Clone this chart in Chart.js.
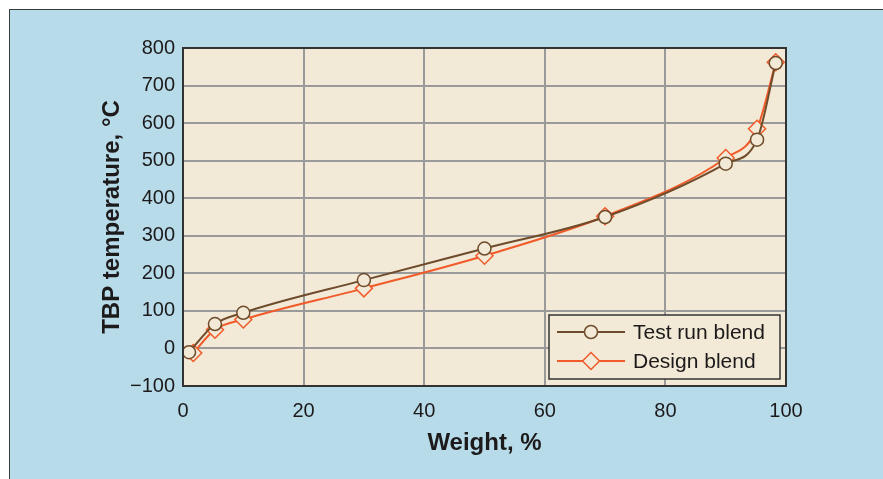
<!DOCTYPE html>
<html>
<head>
<meta charset="utf-8">
<script src="https://cdn.jsdelivr.net/npm/chart.js@4/dist/chart.umd.min.js"></script>
<style>
  body { margin: 0; background: #ffffff; }
  #frame { position: absolute; left: 9px; top: 9px; width: 900px; height: 500px;
           background: #b8dbea; border: 1.5px solid #3a3a3a; }
  #wrap { position: absolute; left: 0; top: 0; width: 883px; height: 479px; }
</style>
</head>
<body>
<div id="frame"></div>
<div id="wrap"><canvas id="chart" width="883" height="479"></canvas></div>
<script>
// 데이터
const weightTest = [1, 5.3, 10, 30, 50, 70, 90, 95.2, 98.3];
const tempTest = [-10, 65, 95, 182, 266, 350, 492, 556, 760];
const weightDesign = [1.7, 5.3, 10, 30, 50, 70, 90, 95.2, 98.3];
const tempDesign = [-12, 50, 77, 160, 247, 352, 507, 585, 762];
const seriesNames = ['Test run blend', 'Design blend'];

const xTitle = 'Weight, %';
const yTitle = 'TBP temperature, \u00B0C';

const plotBg = '#f2e9d6';
const brown = '#6e4b2a';
const orange = '#f15a29';
const textColor = '#1c1a1b';
const fontFamily = '"Liberation Sans", Arial, sans-serif';

function toPoints(xs, ys) {
  return xs.map((x, i) => ({ x: x, y: ys[i] }));
}

// 플롯 영역 배경 + 테두리 + 범례
const plotFrame = {
  id: 'plotFrame',
  beforeDraw(chart) {
    const { ctx, chartArea: a } = chart;
    ctx.save();
    ctx.fillStyle = plotBg;
    ctx.fillRect(a.left, a.top, a.right - a.left, a.bottom - a.top);
    ctx.restore();
  },
  afterDraw(chart) {
    const { ctx, chartArea: a } = chart;
    ctx.save();
    ctx.strokeStyle = '#333';
    ctx.lineWidth = 2;
    ctx.strokeRect(a.left, a.top, a.right - a.left, a.bottom - a.top);

    // legend box
    const bx = 549, by = 315, bw = 231, bh = 64;
    ctx.fillStyle = plotBg;
    ctx.fillRect(bx, by, bw, bh);
    ctx.lineWidth = 1.5;
    ctx.strokeStyle = '#333';
    ctx.strokeRect(bx, by, bw, bh);

    chart.data.datasets.forEach((ds, i) => {
      const y = by + 17 + i * 29;
      ctx.strokeStyle = ds.borderColor;
      ctx.lineWidth = 2;
      ctx.beginPath();
      ctx.moveTo(557, y);
      ctx.lineTo(625, y);
      ctx.stroke();
      ctx.fillStyle = plotBg;
      ctx.strokeStyle = ds.borderColor;
      ctx.lineWidth = 1.5;
      Chart.helpers.drawPoint(ctx, {
        pointStyle: ds.pointStyle,
        radius: ds.pointRadius,
        borderWidth: 1.5
      }, 591, y);
      ctx.fillStyle = textColor;
      ctx.font = '21px ' + fontFamily;
      ctx.textBaseline = 'middle';
      ctx.textAlign = 'left';
      ctx.fillText(ds.label, 633, y + 1);
    });
    ctx.restore();
  }
};

const ctx = document.getElementById('chart').getContext('2d');
new Chart(ctx, {
  type: 'scatter',
  data: {
    datasets: [{
      label: seriesNames[0],
      data: toPoints(weightTest, tempTest),
      showLine: true,
      borderColor: brown,
      backgroundColor: plotBg,
      borderWidth: 2,
      pointStyle: 'circle',
      pointRadius: 6.5,
      pointBorderWidth: 1.5,
      cubicInterpolationMode: 'monotone'
    }, {
      label: seriesNames[1],
      data: toPoints(weightDesign, tempDesign),
      showLine: true,
      borderColor: orange,
      backgroundColor: plotBg,
      borderWidth: 2,
      pointStyle: 'rectRot',
      pointRadius: 8.5,
      pointBorderWidth: 1.5,
      cubicInterpolationMode: 'monotone'
    }]
  },
  options: {
    responsive: false,
    animation: false,
    layout: { padding: { left: 94, top: 48, right: 97, bottom: 21 } },
    plugins: {
      legend: { display: false },
      tooltip: { enabled: false }
    },
    scales: {
      x: {
        type: 'linear',
        min: 0, max: 100,
        afterFit: s => { s.height = 72; },
        ticks: {
          stepSize: 20,
          padding: 13,
          color: textColor,
          font: { family: fontFamily, size: 20 }
        },
        grid: { color: '#9a9a9a', lineWidth: 2, drawTicks: false },
        border: { display: false },
        title: {
          display: true,
          text: xTitle,
          color: textColor,
          padding: 0,
          font: { family: fontFamily, size: 24, weight: 'bold' }
        }
      },
      y: {
        type: 'linear',
        min: -100, max: 800,
        afterFit: s => { s.width = 89; },
        ticks: {
          stepSize: 100,
          padding: 8,
          color: textColor,
          font: { family: fontFamily, size: 20 },
          callback: v => String(v).replace('-', '\u2212')
        },
        grid: { color: '#9a9a9a', lineWidth: 2, drawTicks: false },
        border: { display: false },
        title: {
          display: true,
          text: yTitle,
          color: textColor,
          padding: 4,
          font: { family: fontFamily, size: 24, weight: 'bold' }
        }
      }
    }
  },
  plugins: [plotFrame]
});
</script>
</body>
</html>
